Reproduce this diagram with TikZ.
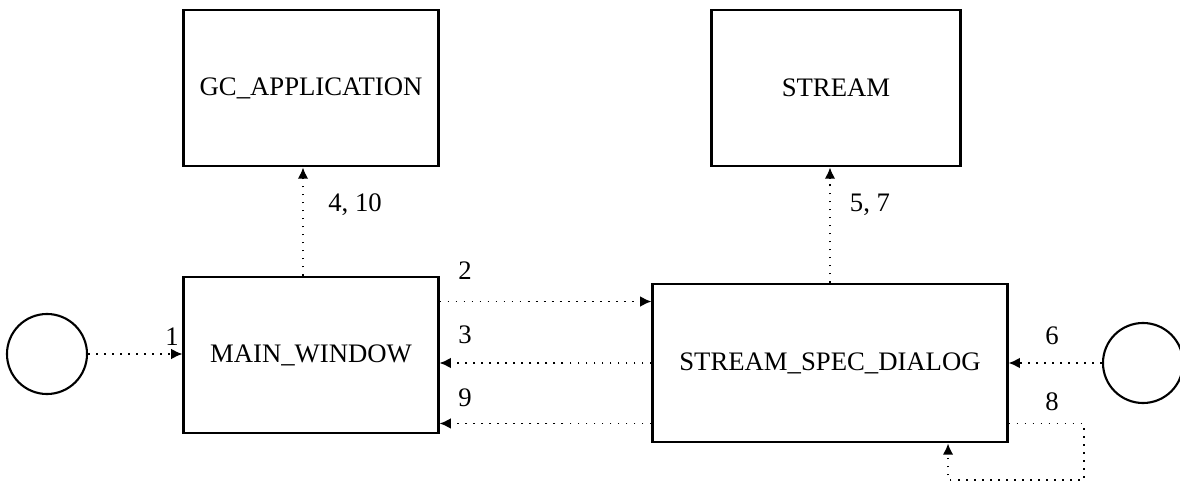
\documentclass[tikz,border=0pt]{standalone}
\usepackage{fontspec}
\setmainfont{Liberation Serif}
\usetikzlibrary{positioning,arrows.meta}

\begin{document}
\begin{tikzpicture}[
    x=0.025cm, y=-0.025cm,
    >={Latex[length=8pt,width=7.5pt]},
    font=\fontsize{19}{22}\selectfont,
    obj/.style={draw, line width=2.1pt, minimum width=6.35cm, minimum height=3.9cm, inner sep=0pt},
    ext/.style={draw, line width=1.5pt, circle, minimum size=2cm, inner sep=0pt},
    msg/.style={->, line width=1.2pt, dash pattern=on 1.3pt off 4.4pt},
    num/.style={inner sep=0pt},
  ]
    \useasboundingbox (0,0) rectangle (1180,485);

    % objects
    \node[obj] (gc)  at (311,88)  {GC\_APPLICATION};
    \node[obj, minimum width=6.2cm] (st)  at (836,88)  {STREAM};
    \node[obj] (mw)  at (311,355) {MAIN\_WINDOW};
    \node[obj, minimum width=8.85cm, minimum height=3.95cm] (ssd) at (830,363) {STREAM\_SPEC\_DIALOG};

    % external events
    \node[ext] (usr)  at (47,354)  {};
    \node[ext] (tmr)  at (1143,363) {};

    % messages
    \draw[msg] (usr.east) -- (usr.east -| mw.west);
    \draw[msg] ([yshift=-0.65cm]mw.north east) -- ([yshift=-0.65cm]mw.north east -| ssd.west);
    \draw[msg] (ssd.west) -- (ssd.west -| mw.east);
    \draw[msg] ([yshift=0.5cm]ssd.south west) -- ([yshift=0.5cm]ssd.south west -| mw.east);
    \draw[msg] ([xshift=-0.2cm]mw.north) -- ([xshift=-0.2cm]mw.north |- gc.south);
    \draw[msg] (ssd.north) -- (ssd.north |- st.south);
    \draw[msg] (tmr.west) -- (tmr.west -| ssd.east);
    \coordinate (lp) at (1084,480);
    \draw[msg] ([yshift=0.5cm]ssd.south east) -| (lp) -| ([xshift=2.95cm]ssd.south);

    % message numbers
    \node[num] (n1)  at (172,337) {1};
    \node[num] (n2)  at (465,271) {2};
    \node[num] (n3)  at (465,335) {3};
    \node[num] (n9)  at (465,398) {9};
    \node[num] (n4)  at (355,205) {4, 10};
    \node[num] (n5)  at (870,205) {5, 7};
    \node[num] (n6)  at (1052,336) {6};
    \node[num] (n8)  at (1052,402) {8};
  \end{tikzpicture}
\end{document}
